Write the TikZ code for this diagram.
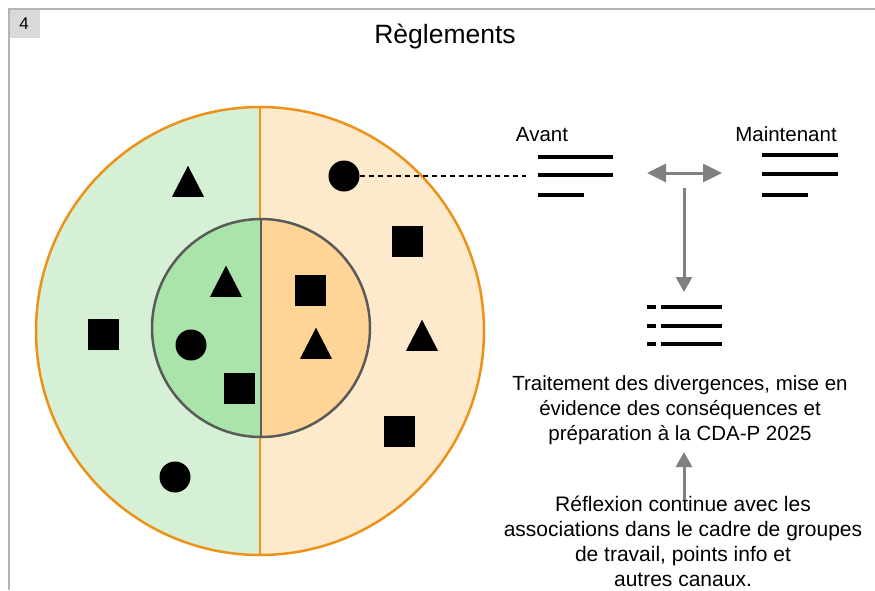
\documentclass[tikz,border=0pt]{standalone}
\usepackage{fontspec}
\setmainfont{Liberation Sans}
\usetikzlibrary{arrows.meta,shapes.geometric}
\definecolor{outgreen}{RGB}{213,240,213}
\definecolor{outorange}{RGB}{253,233,204}
\definecolor{ingreen}{RGB}{170,228,170}
\definecolor{inorange}{RGB}{255,213,151}
\definecolor{ringorange}{RGB}{236,146,24}
\definecolor{ringgray}{RGB}{90,90,90}
\definecolor{arrgray}{RGB}{128,128,128}
\definecolor{framegray}{RGB}{180,180,180}
\definecolor{boxgray}{RGB}{217,217,217}
\begin{document}
\begin{tikzpicture}[x=1pt,y=-1pt,
  dot/.style={circle,fill=black,inner sep=0,minimum size=31},
  sq/.style={rectangle,fill=black,inner sep=0,minimum size=31},
  tri/.style={isosceles triangle,isosceles triangle stretches,shape border rotate=90,
    fill=black,inner sep=0,minimum width=32,minimum height=31},
  bar/.style={line width=4pt},
  txt/.style={font=\fontsize{20.5}{25}\selectfont,align=center,inner sep=0}]
 \useasboundingbox (0,0) rectangle (875,590);

 \fill[boxgray] (9,9) rectangle (40,38);
 \draw[framegray,line width=2pt] (875,9) -- (9,9) -- (9,590);
 \node (num) at (24,24) {\fontsize{17}{18}\selectfont 4};
 \node (title) at (445,43) [anchor=base,font=\fontsize{26.5}{30}\selectfont] {Règlements};

 \fill[outgreen] (260,331) +(90:224) arc[start angle=90,end angle=270,radius=224] -- cycle;
 \fill[outorange] (260,331) +(-90:224) arc[start angle=-90,end angle=90,radius=224] -- cycle;
 \draw[ringorange,line width=2.5pt] (260,107) -- (260,555);
 \draw[ringorange,line width=2.5pt] (260,331) circle[radius=224];

 \fill[ingreen] (261,328) +(90:109) arc[start angle=90,end angle=270,radius=109] -- cycle;
 \fill[inorange] (261,328) +(-90:109) arc[start angle=-90,end angle=90,radius=109] -- cycle;
 \draw[ringgray,line width=2.5pt] (261,219) -- (261,437);
 \draw[ringgray,line width=2.5pt] (261,328) circle[radius=109];

 \node (t1) at (188,187) [tri] {};
 \node (s1) at (103,334) [sq] {};
 \node (d1) at (175,477) [dot] {};
 \node (t2) at (226,287) [tri] {};
 \node (d2) at (191,345) [dot] {};
 \node (s2) at (239,388) [sq] {};
 \node (s3) at (310,290) [sq] {};
 \node (t3) at (316,349) [tri] {};
 \node (d3) at (344,176) [dot] {};
 \node (s4) at (407,241) [sq] {};
 \node (t4) at (422,341) [tri] {};
 \node (s5) at (399,431) [sq] {};

 \coordinate (dashend) at (526,176);
 \draw[dash pattern=on 5pt off 4pt,line width=1.2pt] (d3.east) -- (dashend);

 \node (avant) at (542,141) [anchor=base,font=\fontsize{20.5}{24}\selectfont] {Avant};
 \node (maint) at (786,141) [anchor=base,font=\fontsize{20.5}{24}\selectfont] {Maintenant};
 \draw[bar] (538,157) -- (613,157) (538,175) -- (613,175) (538,195) -- (584,195);
 \draw[bar] (762,155) -- (838,155) (762,174) -- (838,174) (762,195) -- (808,195);

 \coordinate (lr1) at (647,173);
 \coordinate (lr2) at (722,173);
 \draw[arrgray,line width=3pt,{Triangle[length=19pt,width=18pt]}-{Triangle[length=19pt,width=18pt]}] (lr1) -- (lr2);
 \coordinate (dtop) at (684,188);
 \coordinate (dtip) at (684,292);
 \draw[arrgray,line width=3pt,-{Triangle[length=15pt,width=16pt]}] (dtop) -- (dtip);

 \draw[bar] (647,307) -- (656,307) (661,307) -- (722,307);
 \draw[bar] (647,326) -- (656,326) (661,326) -- (722,326);
 \draw[bar] (647,344) -- (656,344) (661,344) -- (722,344);

 \node (trait) at (680,410) [txt] {Traitement des divergences, mise en\\évidence des conséquences et\\préparation à la CDA-P 2025};
 \node (reflex) at (683,541) [txt,font=\fontsize{21}{25}\selectfont] {Réflexion continue avec les\\associations dans le cadre de groupes\\de travail, points info et\\autres canaux.};

 \coordinate (utail) at (684,500);
 \coordinate (utip) at (684,452);
 \draw[arrgray,line width=3pt,-{Triangle[length=15pt,width=16pt]}] (utail) -- (utip);
\end{tikzpicture}
\end{document}
